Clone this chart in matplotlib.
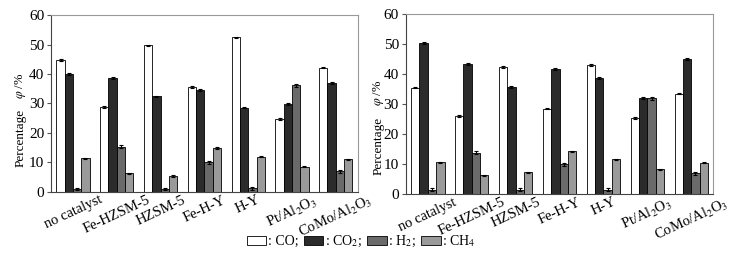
import matplotlib.pyplot as plt
import numpy as np

plt.rcParams['font.family'] = ['Liberation Serif', 'DejaVu Serif']
plt.rcParams['mathtext.fontset'] = 'stix'

catalysts = ['no catalyst', 'Fe-HZSM-5', 'HZSM-5', 'Fe-H-Y', 'H-Y',
             'Pt/Al$_2$O$_3$', 'CoMo/Al$_2$O$_3$']
gases = [': CO;', ': CO$_2$;', ': H$_2$;', ': CH$_4$']
colors = ['white', '#2b2b2b', '#6a6a6a', '#9a9a9a']

# left panel
left_co = [44.7, 28.7, 49.7, 35.6, 52.4, 24.8, 42.2]
left_co2 = [40.0, 38.7, 32.4, 34.5, 28.6, 29.8, 37.0]
left_h2 = [1.0, 15.3, 1.0, 10.1, 1.2, 36.2, 7.0]
left_ch4 = [11.4, 6.3, 5.4, 14.9, 12.0, 8.5, 11.1]

# right panel
right_co = [35.5, 26.0, 42.3, 28.5, 42.9, 25.4, 33.5]
right_co2 = [50.2, 43.3, 35.8, 41.6, 38.8, 32.1, 45.0]
right_h2 = [1.4, 13.8, 1.4, 10.0, 1.5, 31.9, 7.0]
right_ch4 = [10.6, 6.3, 7.3, 14.3, 11.6, 8.3, 10.4]

err = [0.3, 0.3, 0.5, 0.2]

fig = plt.figure(figsize=(7.3, 2.64), dpi=100)
ax1 = fig.add_axes([0.070, 0.273, 0.420, 0.670])
ax2 = fig.add_axes([0.556, 0.265, 0.421, 0.682])

def draw(ax, series, lab_x, lab_y1, lab_y2):
    x = np.arange(len(catalysts))
    w = 0.19
    handles = []
    for k, vals in enumerate(series):
        b = ax.bar(x + (k - 1.5) * w, vals, w, color=colors[k],
                   edgecolor='black', linewidth=0.6,
                   yerr=err[k], capsize=1.5,
                   error_kw=dict(elinewidth=0.8, capthick=0.8, ecolor='black'))
        handles.append(b)
    ax.set_xlim(-0.5, len(catalysts) - 0.5)
    ax.set_ylim(0, 60)
    ax.set_yticks([0, 10, 20, 30, 40, 50, 60])
    ax.set_xticks(x)
    ax.set_xticklabels(catalysts, rotation=25, ha='center', fontsize=10.5)
    ax.tick_params(axis='x', length=0, pad=1)
    ax.tick_params(axis='y', labelsize=11, length=3, pad=2, color='#555555')
    for s in ['top', 'right']:
        ax.spines[s].set_color('#999999')
        ax.spines[s].set_linewidth(0.8)
    for s in ['left', 'bottom']:
        ax.spines[s].set_color('#444444')
    ax.text(lab_x, lab_y1, 'Percentage', rotation=90, ha='center',
            va='center', fontsize=9.5, transform=ax.transAxes)
    ax.text(lab_x, lab_y2, '$\\varphi$ /%', rotation=90, ha='center',
            va='center', fontsize=9, transform=ax.transAxes)
    return handles

h = draw(ax1, [left_co, left_co2, left_h2, left_ch4], -0.10, 0.305, 0.60)
draw(ax2, [right_co, right_co2, right_h2, right_ch4], -0.09, 0.267, 0.56)

fig.legend(h, gases, loc='center', bbox_to_anchor=(0.495, 0.087), ncol=4,
           frameon=False, fontsize=10, handlelength=1.4, handleheight=0.6,
           handletextpad=0.1, columnspacing=0.4, borderpad=0)

fig.savefig('out.png', dpi=100)
